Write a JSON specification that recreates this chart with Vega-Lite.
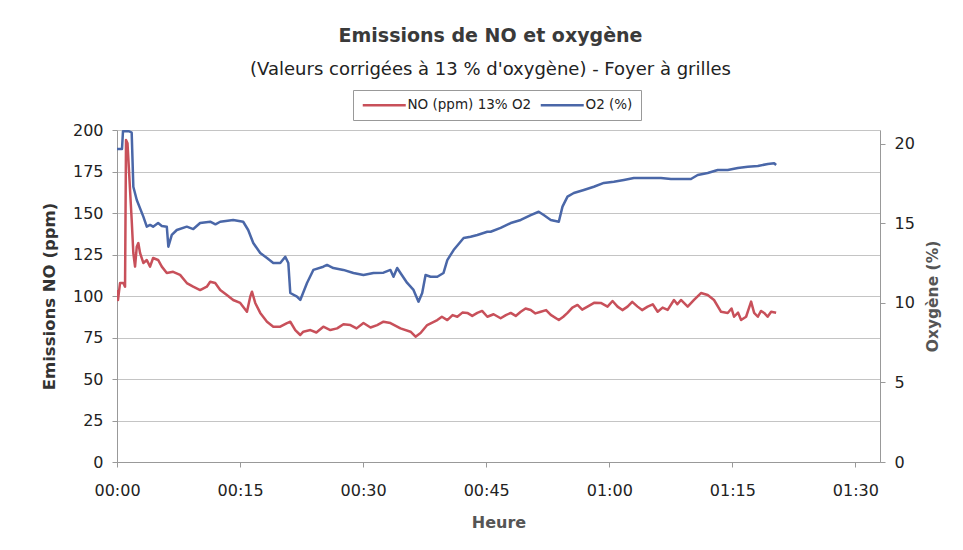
{
  "$schema": "https://vega.github.io/schema/vega-lite/v6.json",
  "width": 763,
  "height": 332,
  "autosize": {"type": "none"},
  "padding": {"left": 117, "top": 130, "right": 83, "bottom": 88},
  "background": "white",
  "config": {"view": {"stroke": null}, "font": "DejaVu Sans"},
  "title": {
    "text": "Emissions de NO et oxygène",
    "subtitle": "(Valeurs corrigées à 13 % d'oxygène) - Foyer à grilles",
    "anchor": "middle",
    "frame": "group",
    "dx": -8,
    "offset": 11,
    "font": "DejaVu Sans",
    "fontSize": 19,
    "fontWeight": "bold",
    "color": "#3a3a3a",
    "subtitleFont": "DejaVu Sans",
    "subtitleFontSize": 18,
    "subtitleColor": "#222222",
    "subtitlePadding": 15
  },
  "datasets": {
    "no": [
      {"t":0.00,"NO":103.6},{"t":0.12,"NO":97.6},{"t":0.37,"NO":107.8},{"t":0.77,"NO":107.8},{"t":0.98,"NO":105.6},{"t":1.10,"NO":194},{"t":1.28,"NO":192},{"t":1.79,"NO":145.8},{"t":1.99,"NO":125.9},{"t":2.20,"NO":117.7},{"t":2.41,"NO":129.7},{"t":2.60,"NO":131.9},{"t":2.81,"NO":125.9},{"t":3.21,"NO":119.9},{"t":3.63,"NO":121.7},{"t":4.03,"NO":117.7},{"t":4.40,"NO":122.9},{"t":5.01,"NO":121.7},{"t":5.46,"NO":117.7},{"t":6.07,"NO":113.9},{"t":6.84,"NO":114.6},{"t":7.69,"NO":112.7},{"t":8.51,"NO":107.8},{"t":9.28,"NO":105.6},{"t":10.13,"NO":103.6},{"t":10.95,"NO":105.6},{"t":11.36,"NO":108.6},{"t":11.97,"NO":107.8},{"t":12.58,"NO":103.6},{"t":13.39,"NO":100.6},{"t":14.16,"NO":97.6},{"t":15.02,"NO":95.8},{"t":15.84,"NO":90.5},{"t":16.24,"NO":99.6},{"t":16.45,"NO":102.6},{"t":16.85,"NO":95.8},{"t":17.46,"NO":89.8},{"t":18.28,"NO":84.5},{"t":19.05,"NO":81.5},{"t":19.90,"NO":81.5},{"t":20.72,"NO":83.7},{"t":21.12,"NO":84.5},{"t":21.73,"NO":79.5},{"t":22.34,"NO":76.5},{"t":22.71,"NO":78.5},{"t":23.57,"NO":79.5},{"t":24.3,"NO":78.0},{"t":25.15,"NO":81.5},{"t":26.0,"NO":79.5},{"t":26.83,"NO":80.5},{"t":27.6,"NO":83.0},{"t":28.45,"NO":82.5},{"t":29.2,"NO":80.5},{"t":30.04,"NO":83.7},{"t":30.9,"NO":81.0},{"t":31.71,"NO":82.5},{"t":32.48,"NO":84.5},{"t":33.33,"NO":83.7},{"t":34.55,"NO":80.5},{"t":35.78,"NO":78.5},{"t":36.39,"NO":75.5},{"t":37.00,"NO":77.7},{"t":37.81,"NO":82.5},{"t":39.04,"NO":85.5},{"t":39.6,"NO":87.5},{"t":40.26,"NO":85.5},{"t":40.9,"NO":88.5},{"t":41.48,"NO":87.5},{"t":42.1,"NO":90.0},{"t":42.70,"NO":89.8},{"t":43.3,"NO":88.0},{"t":43.92,"NO":89.8},{"t":44.5,"NO":91.0},{"t":45.14,"NO":87.5},{"t":45.9,"NO":89.0},{"t":46.76,"NO":86.6},{"t":47.4,"NO":88.5},{"t":47.99,"NO":89.8},{"t":48.6,"NO":88.0},{"t":49.21,"NO":90.5},{"t":49.8,"NO":92.5},{"t":50.43,"NO":91.6},{"t":51.0,"NO":89.5},{"t":51.65,"NO":90.5},{"t":52.3,"NO":91.5},{"t":52.87,"NO":88.6},{"t":53.85,"NO":85.5},{"t":54.4,"NO":87.5},{"t":54.91,"NO":89.8},{"t":55.5,"NO":93.0},{"t":56.13,"NO":94.6},{"t":56.7,"NO":91.8},{"t":57.35,"NO":93.6},{"t":58.2,"NO":96.0},{"t":58.97,"NO":95.8},{"t":59.79,"NO":93.6},{"t":60.4,"NO":97.0},{"t":61.01,"NO":93.6},{"t":61.6,"NO":91.5},{"t":62.23,"NO":93.6},{"t":62.8,"NO":96.5},{"t":63.45,"NO":93.6},{"t":64.0,"NO":91.5},{"t":64.68,"NO":93.6},{"t":65.3,"NO":95.0},{"t":65.90,"NO":90.5},{"t":66.5,"NO":93.0},{"t":67.12,"NO":91.6},{"t":67.89,"NO":97.6},{"t":68.3,"NO":95.0},{"t":68.74,"NO":97.6},{"t":69.56,"NO":93.6},{"t":70.33,"NO":97.6},{"t":71.18,"NO":101.8},{"t":72.00,"NO":100.6},{"t":72.77,"NO":97.6},{"t":73.63,"NO":90.5},{"t":74.44,"NO":89.8},{"t":74.9,"NO":92.5},{"t":75.21,"NO":87.5},{"t":75.7,"NO":90.0},{"t":76.07,"NO":85.5},{"t":76.68,"NO":87.5},{"t":77.29,"NO":96.6},{"t":77.66,"NO":89.8},{"t":78.11,"NO":87.5},{"t":78.5,"NO":91.0},{"t":78.88,"NO":89.8},{"t":79.3,"NO":87.5},{"t":79.73,"NO":90.5},{"t":80.34,"NO":89.9}
    ],
    "o2": [
      {"t":0.00,"O2":19.69},{"t":0.61,"O2":19.69},{"t":0.73,"O2":20.8},{"t":1.47,"O2":20.8},{"t":1.79,"O2":20.71},{"t":1.99,"O2":17.31},{"t":2.41,"O2":16.48},{"t":3.21,"O2":15.43},{"t":3.63,"O2":14.80},{"t":4.03,"O2":14.91},{"t":4.40,"O2":14.80},{"t":5.01,"O2":15.03},{"t":5.46,"O2":14.84},{"t":6.07,"O2":14.80},{"t":6.26,"O2":13.54},{"t":6.68,"O2":14.28},{"t":7.29,"O2":14.59},{"t":8.51,"O2":14.80},{"t":9.3,"O2":14.65},{"t":10.13,"O2":15.03},{"t":11.36,"O2":15.11},{"t":12.0,"O2":14.95},{"t":12.58,"O2":15.11},{"t":14.16,"O2":15.22},{"t":15.38,"O2":15.11},{"t":15.99,"O2":14.59},{"t":16.61,"O2":13.77},{"t":17.46,"O2":13.14},{"t":18.28,"O2":12.83},{"t":19.05,"O2":12.52},{"t":19.90,"O2":12.52},{"t":20.51,"O2":12.91},{"t":20.88,"O2":12.52},{"t":21.12,"O2":10.63},{"t":21.94,"O2":10.40},{"t":22.34,"O2":10.19},{"t":23.16,"O2":11.26},{"t":23.93,"O2":12.08},{"t":25.15,"O2":12.28},{"t":25.60,"O2":12.39},{"t":26.37,"O2":12.20},{"t":27.59,"O2":12.08},{"t":28.82,"O2":11.89},{"t":30.04,"O2":11.76},{"t":31.26,"O2":11.89},{"t":32.48,"O2":11.91},{"t":33.33,"O2":12.08},{"t":33.70,"O2":11.65},{"t":34.15,"O2":12.20},{"t":34.55,"O2":11.89},{"t":35.37,"O2":11.26},{"t":36.14,"O2":10.82},{"t":36.75,"O2":10.08},{"t":37.20,"O2":10.63},{"t":37.61,"O2":11.76},{"t":38.22,"O2":11.65},{"t":39.04,"O2":11.65},{"t":39.80,"O2":11.89},{"t":40.26,"O2":12.70},{"t":41.03,"O2":13.33},{"t":42.25,"O2":14.09},{"t":43.10,"O2":14.17},{"t":43.92,"O2":14.28},{"t":45.14,"O2":14.48},{"t":45.54,"O2":14.48},{"t":46.76,"O2":14.72},{"t":47.99,"O2":15.03},{"t":49.21,"O2":15.22},{"t":50.43,"O2":15.53},{"t":51.40,"O2":15.74},{"t":52.01,"O2":15.53},{"t":52.87,"O2":15.22},{"t":53.85,"O2":15.11},{"t":54.30,"O2":16.06},{"t":54.91,"O2":16.69},{"t":55.68,"O2":16.92},{"t":56.90,"O2":17.11},{"t":58.12,"O2":17.31},{"t":59.34,"O2":17.55},{"t":60.56,"O2":17.63},{"t":61.78,"O2":17.74},{"t":63.00,"O2":17.86},{"t":64.22,"O2":17.86},{"t":65.45,"O2":17.86},{"t":66.30,"O2":17.86},{"t":67.52,"O2":17.80},{"t":68.74,"O2":17.80},{"t":69.96,"O2":17.80},{"t":70.78,"O2":18.05},{"t":72.00,"O2":18.18},{"t":73.22,"O2":18.36},{"t":74.44,"O2":18.36},{"t":75.67,"O2":18.49},{"t":76.89,"O2":18.57},{"t":78.11,"O2":18.62},{"t":79.33,"O2":18.74},{"t":80.10,"O2":18.79},{"t":80.34,"O2":18.68}
    ]
  },
  "layer": [
    {
      "data": {"name": "no"},
      "mark": {"type": "line", "strokeWidth": 2.5, "strokeJoin": "round", "clip": true},
      "encoding": {
        "x": {
          "field": "t", "type": "quantitative",
          "scale": {"domain": [0, 93.0], "nice": false, "zero": false},
          "axis": {
            "title": "Heure",
            "values": [0, 15, 30, 45, 60, 75, 90],
            "labelExpr": "timeFormat(datetime(2000, 0, 1, 0, datum.value), '%H:%M')",
            "labelFlush": false,
            "grid": false,
            "domainColor": "#999999",
            "tickColor": "#999999",
            "tickSize": 5,
            "labelFont": "DejaVu Sans",
            "labelFontSize": 16,
            "labelColor": "#222222",
            "labelPadding": 15,
            "titleFont": "DejaVu Sans",
            "titleFontSize": 16,
            "titleFontWeight": "bold",
            "titleColor": "#555555",
            "titlePadding": 16
          }
        },
        "y": {
          "field": "NO", "type": "quantitative",
          "scale": {"domain": [0, 200], "nice": false},
          "axis": {
            "orient": "left",
            "title": "Emissions NO (ppm)",
            "values": [0, 25, 50, 75, 100, 125, 150, 175, 200],
            "grid": true,
            "gridColor": "#c4c4c4",
            "domainColor": "#999999",
            "tickColor": "#999999",
            "tickSize": 5,
            "labelFont": "DejaVu Sans",
            "labelFontSize": 16,
            "labelColor": "#222222",
            "labelPadding": 9,
            "titleFont": "DejaVu Sans",
            "titleFontSize": 16.5,
            "titleFontWeight": "bold",
            "titleColor": "#333333",
            "titlePadding": 15
          }
        },
        "color": {
          "datum": "NO (ppm) 13% O2",
          "scale": {"domain": ["NO (ppm) 13% O2", "O2 (%)"], "range": ["#c8505a", "#4a67a8"]},
          "legend": {
            "orient": "none",
            "legendX": 236,
            "legendY": -40,
            "direction": "horizontal",
            "title": null,
            "symbolType": "M-1,0L7.6,0",
            "symbolSize": 100,
            "symbolStrokeWidth": 2.5,
            "labelFont": "DejaVu Sans",
            "labelFontSize": 13.5,
            "labelColor": "#222222",
            "labelOffset": 33,
            "labelLimit": 300,
            "columnPadding": 3,
            "padding": 8,
            "strokeColor": "#999999",
            "fillColor": "white"
          }
        }
      }
    },
    {
      "data": {"name": "o2"},
      "mark": {"type": "line", "strokeWidth": 2.5, "strokeJoin": "round", "clip": true},
      "encoding": {
        "x": {"field": "t", "type": "quantitative"},
        "y": {
          "field": "O2", "type": "quantitative",
          "scale": {"domain": [0, 20.88], "nice": false},
          "axis": {
            "orient": "right",
            "title": "Oxygène (%)",
            "titleAngle": 270,
            "values": [0, 5, 10, 15, 20],
            "grid": false,
            "domainColor": "#999999",
            "tickColor": "#999999",
            "tickSize": 5,
            "labelFont": "DejaVu Sans",
            "labelFontSize": 16,
            "labelColor": "#222222",
            "labelPadding": 9,
            "titleFont": "DejaVu Sans",
            "titleFontSize": 15.5,
            "titleFontWeight": "bold",
            "titleColor": "#555555",
            "titlePadding": 26
          }
        },
        "color": {"datum": "O2 (%)"}
      }
    }
  ],
  "resolve": {"scale": {"y": "independent"}, "axis": {"y": "independent"}}
}
